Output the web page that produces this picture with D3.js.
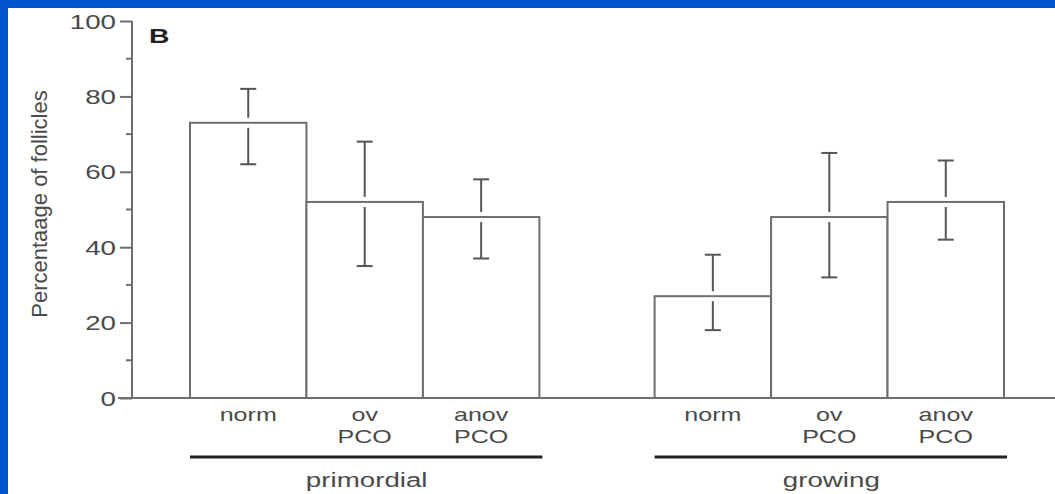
<!DOCTYPE html>
<html>
<head>
<meta charset="utf-8">
<script src="https://cdn.jsdelivr.net/npm/d3@7"></script>
<style>
  body { margin: 0; background: #0055cc; }
  svg { display: block; }
  text { font-family: "Liberation Sans", Arial, sans-serif; }
</style>
</head>
<body>
<svg id="chart" width="1055" height="494"></svg>
<script>
// Data
const groups = ['primordial', 'growing'];
const categories = ['norm', 'ov PCO', 'anov PCO'];
const primordialMeans = [73, 52, 48];
const primordialUpper = [82, 68, 58];
const primordialLower = [62, 35, 37];
const growingMeans = [27, 48, 52];
const growingUpper = [38, 65, 63];
const growingLower = [18, 32, 42];
const yTicks = [0, 20, 40, 60, 80, 100];
const yMinorTicks = [10, 30, 50, 70, 90];

const rows = [];
groups.forEach((g, gi) => {
    const means = gi === 0 ? primordialMeans : growingMeans;
    const upper = gi === 0 ? primordialUpper : growingUpper;
    const lower = gi === 0 ? primordialLower : growingLower;
    categories.forEach((c, ci) => {
        rows.push({ group: g, cat: c, mean: means[ci], hi: upper[ci], lo: lower[ci] });
    });
});

const svg = d3.select('#chart');
const lineColor = '#6e6e6e';
const textColor = '#4a4a4a';
const stretch = 1.32; // the figure's text is widened horizontally

// white panel on blue frame
svg.append('rect').attr('x', 8).attr('y', 8).attr('width', 1047).attr('height', 486).attr('fill', '#fff');

const y = d3.scaleLinear().domain([0, 100]).range([398, 21]);
const xGroup = d3.scaleBand().domain(groups).range([190, 1004]).paddingInner(0.248);
const xCat = d3.scaleBand().domain(categories).range([0, xGroup.bandwidth()]);

// y axis
const yAxis = d3.axisLeft(y).tickValues(yTicks).tickSize(12).tickFormat('');
const axisG = svg.append('g').attr('transform', 'translate(132,0)').call(yAxis);
axisG.select('.domain').attr('d', `M0,${y(100)}V${y(0)}`);
axisG.selectAll('path, line').attr('stroke', lineColor).attr('stroke-width', 2);

svg.append('g').selectAll('line')
    .data(yMinorTicks)
    .join('line')
    .attr('x1', 126).attr('x2', 132)
    .attr('y1', d => y(d)).attr('y2', d => y(d))
    .attr('stroke', lineColor).attr('stroke-width', 2);

svg.append('g').selectAll('text')
    .data(yTicks)
    .join('text')
    .attr('transform', d => `translate(116,${y(d) + 7.5}) scale(${stretch},1)`)
    .attr('text-anchor', 'end')
    .attr('font-size', 21)
    .attr('fill', textColor)
    .text(d => d);

// baseline
svg.append('line')
    .attr('x1', 118).attr('x2', 1055)
    .attr('y1', y(0)).attr('y2', y(0))
    .attr('stroke', lineColor).attr('stroke-width', 2);

const barX = d => xGroup(d.group) + xCat(d.cat);

// bars
svg.append('g').selectAll('rect')
    .data(rows)
    .join('rect')
    .attr('x', barX)
    .attr('y', d => y(d.mean))
    .attr('width', xCat.bandwidth())
    .attr('height', d => y(0) - y(d.mean))
    .attr('fill', '#fff')
    .attr('stroke', lineColor)
    .attr('stroke-width', 2);

// error bars, with a small break where they cross the bar top
const errG = svg.append('g').attr('stroke', '#555').attr('stroke-width', 2);
rows.forEach(d => {
    const cx = barX(d) + xCat.bandwidth() / 2;
    const top = y(d.mean);
    errG.append('line').attr('x1', cx).attr('x2', cx).attr('y1', y(d.hi)).attr('y2', top - 5);
    errG.append('line').attr('x1', cx).attr('x2', cx).attr('y1', top + 5).attr('y2', y(d.lo));
    errG.append('line').attr('x1', cx - 8).attr('x2', cx + 8).attr('y1', y(d.hi)).attr('y2', y(d.hi));
    errG.append('line').attr('x1', cx - 8).attr('x2', cx + 8).attr('y1', y(d.lo)).attr('y2', y(d.lo));
});

// category labels
const catLabels = svg.append('g').selectAll('text')
    .data(rows)
    .join('text')
    .attr('text-anchor', 'middle')
    .attr('font-size', 19)
    .attr('fill', textColor);
catLabels.each(function (d) {
    const cx = barX(d) + xCat.bandwidth() / 2;
    const parts = d.cat.split(' ');
    parts.forEach((p, i) => {
        d3.select(this.parentNode).append('text')
            .attr('transform', `translate(${cx},${421 + i * 22}) scale(${stretch},1)`)
            .attr('text-anchor', 'middle')
            .attr('font-size', 19)
            .attr('fill', textColor)
            .text(p);
    });
});
catLabels.remove();

// group underlines and names
groups.forEach(g => {
    const x0 = xGroup(g);
    svg.append('line')
        .attr('x1', x0).attr('x2', x0 + xGroup.bandwidth() + 3)
        .attr('y1', 457).attr('y2', 457)
        .attr('stroke', '#222').attr('stroke-width', 3);
    svg.append('text')
        .attr('transform', `translate(${x0 + xGroup.bandwidth() / 2 + 2},487) scale(${stretch},1)`)
        .attr('text-anchor', 'middle')
        .attr('font-size', 21)
        .attr('fill', textColor)
        .text(g);
});

// panel letter
svg.append('text')
    .attr('transform', `translate(149,43) scale(1.35,1)`)
    .attr('font-size', 21)
    .attr('font-weight', 'bold')
    .attr('fill', '#222')
    .text('B');

// y axis title
svg.append('text')
    .attr('transform', 'translate(47,204) rotate(-90)')
    .attr('text-anchor', 'middle')
    .attr('font-size', 22)
    .attr('fill', textColor)
    .text('Percentaage of follicles');
</script>
</body>
</html>
